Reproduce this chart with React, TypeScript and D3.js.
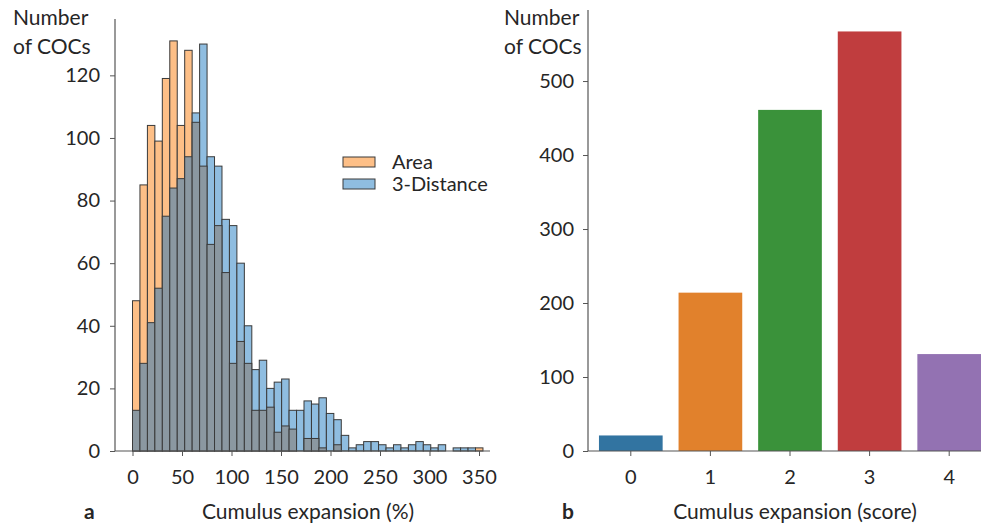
import React, { useEffect, useRef } from 'react'
import * as d3 from 'd3'

// panel a: histogram of cumulus expansion (%), 47 equal bins over 0..354
const binRange = [0, 354]
const areaCounts = [
  48, 85, 104, 99, 119, 131, 104, 128, 105, 91,
  66, 72, 57, 28, 35, 28, 13, 13, 14, 6,
  8, 7, 0, 4, 4, 1, 0, 2, 0, 0,
  0, 0, 0, 0, 0, 0, 0, 0, 0, 0,
  0, 0, 0, 0, 0, 0, 1,
]
const distCounts = [
  13, 28, 41, 52, 75, 84, 87, 94, 108, 130,
  94, 91, 74, 72, 60, 40, 26, 29, 20, 22,
  23, 13, 13, 16, 15, 17, 12, 10, 5, 1,
  2, 3, 3, 2, 1, 2, 1, 2, 3, 2,
  1, 2, 0, 1, 1, 1, 0,
]
const seriesNames = ['Area', '3-Distance']
const histXTicks = [0, 50, 100, 150, 200, 250, 300, 350]
const histYTicks = [0, 20, 40, 60, 80, 100, 120]

// panel b: counts per expansion score
const scoreCats = ['0', '1', '2', '3', '4']
const scoreCounts = [21, 214, 461, 567, 131]
const scoreYTicks = [0, 100, 200, 300, 400, 500]

const FONT = 'Lato, "Open Sans", sans-serif'
const ORANGE = '#fdbf87'
const BLUE = '#8fbde0'
const GRAY = '#8b98a1'
const EDGE = '#3a3a3a'
const SPINE = '#555'
const TXT = '#262626'
const barColors = ['#3274a1', '#e1812c', '#3a923a', '#c03d3e', '#9372b2']

export default function App() {
  const ref = useRef<SVGSVGElement>(null)

  useEffect(() => {
    const svg = d3.select(ref.current)
    svg.selectAll('*').remove()

    // ---------- panel a ----------
    const x = d3.scaleLinear().domain([0, 350]).range([132.5, 479])
    const y = d3.scaleLinear().domain([0, 138]).range([451, 19])
    const nBins = areaCounts.length
    const bw = (binRange[1] - binRange[0]) / nBins

    const bins = areaCounts.map((a, i) => ({
      x0: binRange[0] + i * bw,
      x1: binRange[0] + (i + 1) * bw,
      a,
      b: distCounts[i],
    }))

    const ga = svg.append('g')

    // taller series first, overlap (grey) on top
    ga.selectAll('.hi')
      .data(bins.filter(d => Math.max(d.a, d.b) > 0))
      .enter()
      .append('rect')
      .attr('x', d => x(d.x0))
      .attr('width', d => x(d.x1) - x(d.x0))
      .attr('y', d => y(Math.max(d.a, d.b)))
      .attr('height', d => y(0) - y(Math.max(d.a, d.b)))
      .attr('fill', d => (d.a >= d.b ? ORANGE : BLUE))
      .attr('stroke', EDGE)
      .attr('stroke-width', 1)

    ga.selectAll('.lo')
      .data(bins.filter(d => Math.min(d.a, d.b) > 0))
      .enter()
      .append('rect')
      .attr('x', d => x(d.x0))
      .attr('width', d => x(d.x1) - x(d.x0))
      .attr('y', d => y(Math.min(d.a, d.b)))
      .attr('height', d => y(0) - y(Math.min(d.a, d.b)))
      .attr('fill', GRAY)
      .attr('stroke', EDGE)
      .attr('stroke-width', 1)

    const yAxA = ga.append('g')
      .attr('transform', 'translate(115,0)')
      .call(d3.axisLeft(y).tickValues(histYTicks).tickSize(5).tickPadding(10).tickSizeOuter(0))
    const xAxA = ga.append('g')
      .attr('transform', 'translate(0,451)')
      .call(d3.axisBottom(x).tickValues(histXTicks).tickSize(5).tickPadding(14).tickSizeOuter(0))
    ;[yAxA, xAxA].forEach(ax => {
      ax.select('.domain').remove()
      ax.selectAll('line').attr('stroke', SPINE)
      ax.selectAll('text').attr('font-family', FONT).attr('font-size', 20).attr('fill', TXT)
    })
    ga.append('line').attr('x1', 115).attr('x2', 115).attr('y1', 19).attr('y2', 451).attr('stroke', SPINE).attr('stroke-width', 1.2)
    ga.append('line').attr('x1', 115).attr('x2', 490).attr('y1', 451).attr('y2', 451).attr('stroke', SPINE).attr('stroke-width', 1.2)

    // legend
    const lg = ga.append('g').attr('transform', 'translate(343,157)')
    seriesNames.forEach((name, i) => {
      lg.append('rect')
        .attr('x', 0).attr('y', i * 22).attr('width', 32).attr('height', 10)
        .attr('fill', i === 0 ? ORANGE : BLUE).attr('stroke', EDGE).attr('stroke-width', 1)
      lg.append('text')
        .attr('x', 49).attr('y', i * 22 + 5).attr('dy', '0.35em')
        .attr('font-family', FONT).attr('font-size', 20).attr('fill', TXT)
        .text(name)
    })

    // ---------- panel b ----------
    const xb = d3.scaleBand().domain(scoreCats).range([591, 989]).paddingInner(0.2).paddingOuter(0.1)
    const yb = d3.scaleLinear().domain([0, 596]).range([451, 10])
    const gb = svg.append('g')

    gb.selectAll('rect')
      .data(scoreCounts)
      .enter()
      .append('rect')
      .attr('x', (d, i) => xb(scoreCats[i]))
      .attr('width', xb.bandwidth())
      .attr('y', d => yb(d))
      .attr('height', d => yb(0) - yb(d))
      .attr('fill', (d, i) => barColors[i])

    const yAxB = gb.append('g')
      .attr('transform', 'translate(588,0)')
      .call(d3.axisLeft(yb).tickValues(scoreYTicks).tickSize(5).tickPadding(9).tickSizeOuter(0))
    const xAxB = gb.append('g')
      .attr('transform', 'translate(0,451)')
      .call(d3.axisBottom(xb).tickSize(5).tickPadding(14).tickSizeOuter(0))
    ;[yAxB, xAxB].forEach(ax => {
      ax.select('.domain').remove()
      ax.selectAll('line').attr('stroke', SPINE)
      ax.selectAll('text').attr('font-family', FONT).attr('font-size', 20).attr('fill', TXT)
    })
    gb.append('line').attr('x1', 588).attr('x2', 588).attr('y1', 10).attr('y2', 451).attr('stroke', SPINE).attr('stroke-width', 1.2)
    gb.append('line').attr('x1', 588).attr('x2', 981).attr('y1', 451).attr('y2', 451).attr('stroke', SPINE).attr('stroke-width', 1.2)

    // titles / labels
    const label = (t: string, xx: number, yy: number, opts: any = {}) =>
      svg.append('text')
        .attr('x', xx).attr('y', yy)
        .attr('font-family', FONT)
        .attr('font-size', opts.size || 21)
        .attr('font-weight', opts.bold ? 'bold' : 'normal')
        .attr('text-anchor', opts.anchor || 'start')
        .attr('fill', TXT)
        .text(t)

    label('Number', 13, 25)
    label('of COCs', 13, 54)
    label('Number', 504, 25)
    label('of COCs', 504, 54)
    label('Cumulus expansion (%)', 308, 519, { anchor: 'middle' })
    label('Cumulus expansion (score)', 795, 519, { anchor: 'middle' })
    label('a', 84, 519, { bold: true, size: 21 })
    label('b', 562, 519, { bold: true, size: 21 })
  }, [])

  return (
    <svg
      ref={ref}
      width={981}
      height={529}
      style={{ position: 'absolute', left: 0, top: 0, background: '#fff' }}
    />
  )
}
